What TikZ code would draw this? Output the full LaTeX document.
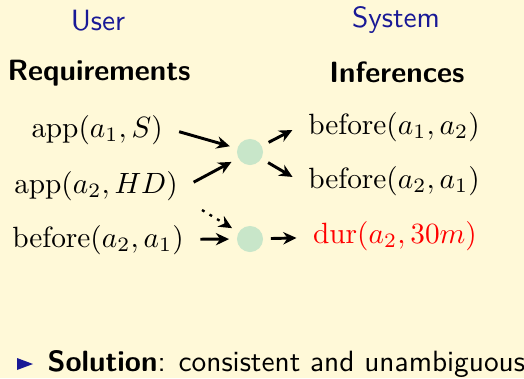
\documentclass[tikz,border=0pt]{standalone}
\usetikzlibrary{arrows.meta}
\definecolor{paper}{RGB}{255,249,216}
\definecolor{struct}{RGB}{25,25,150}
\definecolor{joint}{RGB}{200,230,201}

\begin{document}
\begin{tikzpicture}[x=0.341pt,y=-0.341pt,>={Stealth[length=4.5pt,width=4.2pt]},
    side/.style={font=\sffamily,text=struct,anchor=base},
    title/.style={font=\sffamily\bfseries,anchor=base},
    fact/.style={anchor=base,inner sep=3pt},
    hub/.style={circle,fill=joint,minimum size=8.9pt,inner sep=0pt},
    link/.style={->,line width=1pt,shorten <=2.5pt,shorten >=2.5pt}]
  \fill[paper] (0,0) rectangle (524,378);
  \useasboundingbox (0,0) rectangle (524,378);
  % column heads
  \node[side] (user) at (98,30) {User};
  \node[side] (system) at (396,27) {System};
  \node[title] (req) at (99,80) {Requirements};
  \node[title] (inf) at (397,82) {Inferences};
  % requirements
  \node[fact] (req1) at (97,137) {$\mathrm{app}(a_1,S)$};
  \node[fact] (req2) at (96,193) {$\mathrm{app}(a_2,HD)$};
  \node[fact] (req3) at (98,247) {$\mathrm{before}(a_2,a_1)$};
  % inferences
  \node[fact] (inf1) at (394,134) {$\mathrm{before}(a_1,a_2)$};
  \node[fact] (inf2) at (394,188) {$\mathrm{before}(a_2,a_1)$};
  \node[fact,text=red] (inf3) at (395,243) {$\mathrm{dur}(a_2,30m)$};
  % reasoning steps
  \node[hub] (hub1) at (250,152) {};
  \node[hub] (hub2) at (250,239) {};
  \coordinate (prior) at (202,210);
  \draw[link] (req1.east) -- (hub1);
  \draw[link] (req2.east) -- (hub1);
  \draw[link] (hub1) -- (inf1.west);
  \draw[link] (hub1) -- (inf2.west);
  \draw[link] (req3) -- (hub2);
  \draw[link,dotted,line width=0.8pt,shorten <=0pt] (prior) -- (hub2);
  \draw[link] (hub2) -- (inf3);
  % conclusion
  \fill[struct] (17,358) -- (33,364) -- (17,370) -- cycle;
  \node[font=\sffamily,anchor=base west,inner sep=0pt] (sol) at (47,371)
    {\textbf{Solution}: consistent and unambiguous};
\end{tikzpicture}
\end{document}
